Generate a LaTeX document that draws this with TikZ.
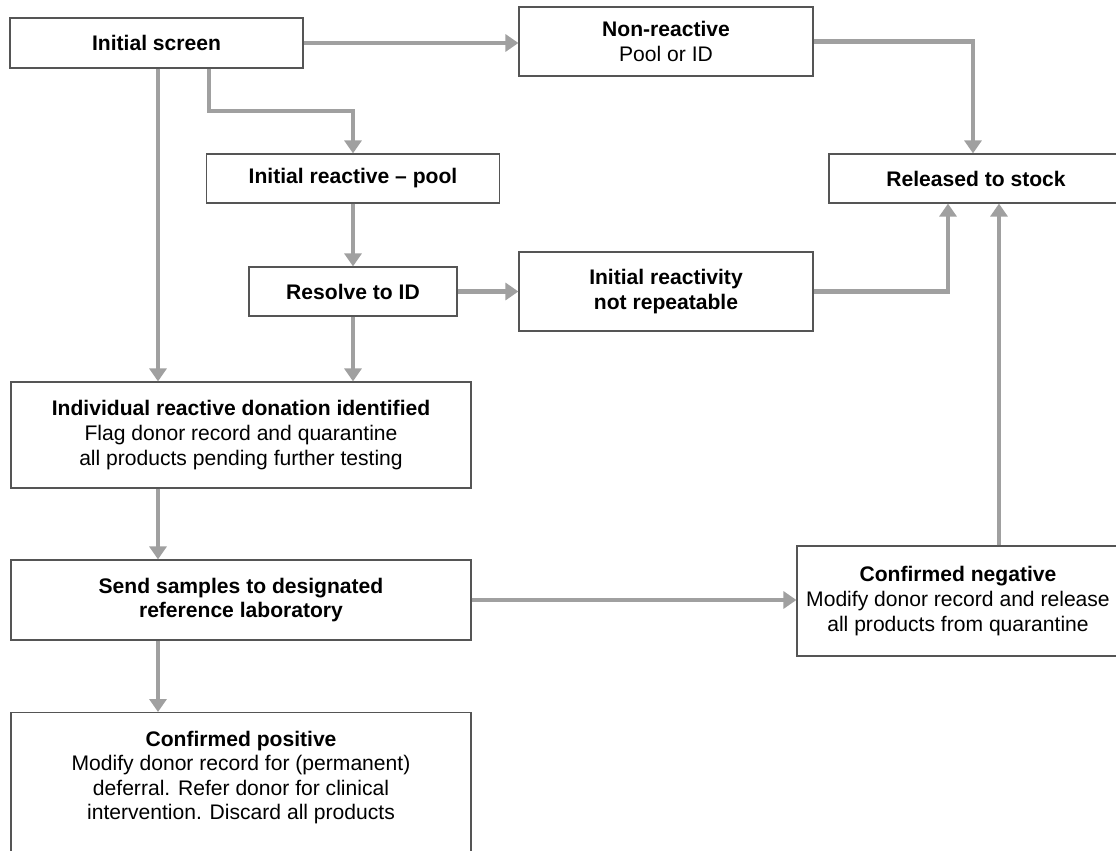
\documentclass[tikz,border=0pt]{standalone}
\usepackage{fontspec}
\setmainfont{Liberation Sans}
\usetikzlibrary{arrows.meta}
\definecolor{flowgray}{RGB}{160,160,160}
\definecolor{boxgray}{RGB}{85,85,85}
\begin{document}
\begin{tikzpicture}[x=0.02cm, y=-0.02cm, >={Triangle[width=0.34cm,length=0.26cm]},
    box/.style={draw=boxgray, line width=0.7pt, fill=white, align=center, inner sep=0pt,
        font=\fontsize{12}{14}\selectfont},
    flow/.style={->, draw=flowgray, line width=0.09cm}]
    \useasboundingbox (0,0) rectangle (1116,851);
    \clip (0,0) rectangle (1116,851);
    % boxes
    \node[box, minimum width=5.86cm, minimum height=1.0cm] (screen) at (156.5,43) {\textbf{Initial screen}};
    \node[box, minimum width=5.88cm, minimum height=1.38cm] (nonreact) at (666,41.5) {\textbf{Non-reactive}\\Pool or ID};
    \node[box, minimum width=5.88cm, minimum height=0.98cm] (stock) at (976,178.5) {\textbf{Released to stock}};
    \node[box, minimum width=5.86cm, minimum height=0.98cm] (pool) at (353,178.5) {\textbf{Initial reactive – pool}};
    \node[box, minimum width=4.16cm, minimum height=0.98cm] (resolve) at (353,291.5) {\textbf{Resolve to ID}};
    \node[box, minimum width=5.88cm, minimum height=1.58cm] (notrep) at (666,291.5) {\textbf{Initial reactivity}\\\textbf{not repeatable}};
    \node[box, minimum width=9.2cm, minimum height=2.12cm] (indiv) at (241,435)
        {\textbf{Individual reactive donation identified}\\Flag donor record and quarantine\\all products pending further testing};
    \node[box, minimum width=9.2cm, minimum height=1.6cm] (send) at (241,600)
        {\textbf{Send samples to designated}\\\textbf{reference laboratory}};
    \node[box, minimum width=6.44cm, minimum height=2.2cm] (neg) at (958,601)
        {\textbf{Confirmed negative}\\Modify donor record and release\\all products from quarantine};
    \node[box, minimum width=9.2cm, minimum height=3.4cm, anchor=north] (posbox) at (241,712) {};
    \node[box, draw=none, fill=none] (pos) at (241,777.5)
        {\textbf{Confirmed positive}\\Modify donor record for (permanent)\\deferral. Refer donor for clinical\\intervention. Discard all products};
    % connectors
    \coordinate (left) at (158,0);
    \coordinate (bend) at (209,111);
    \coordinate (nrx) at (973,0);
    \coordinate (irx) at (948,0);
    \coordinate (cnx) at (999,0);
    \draw[flow] (screen.east) -- (screen.east -| nonreact.west);
    \draw[flow] (left |- screen.south) -- (left |- indiv.north);
    \draw[flow] (bend |- screen.south) -- (bend) -| (pool.north);
    \draw[flow] (pool.south) -- (resolve.north);
    \draw[flow] (resolve.south) -- (resolve.south |- indiv.north);
    \draw[flow] (resolve.east) -- (resolve.east -| notrep.west);
    \draw[flow] (nonreact.east) -| (nrx |- stock.north);
    \draw[flow] (notrep.east) -| (irx |- stock.south);
    \draw[flow] (cnx |- neg.north) -- (cnx |- stock.south);
    \draw[flow] (left |- indiv.south) -- (left |- send.north);
    \draw[flow] (send.east) -- (send.east -| neg.west);
    \draw[flow] (left |- send.south) -- (left |- posbox.north);
\end{tikzpicture}
\end{document}
